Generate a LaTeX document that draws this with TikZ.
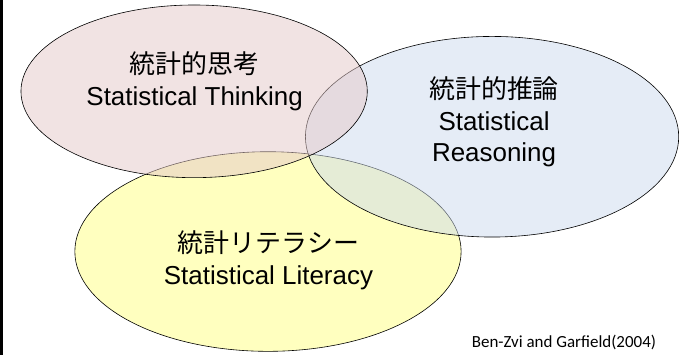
\documentclass[tikz,border=0pt]{standalone}
\usepackage{fontspec}
\setmainfont{Liberation Sans}
\newfontfamily\jpfont{Noto Sans CJK JP}
\newfontfamily\reffont{Carlito}
\usetikzlibrary{shapes.geometric}
\definecolor{thinkpink}{RGB}{229,201,201}
\definecolor{reasonblue}{RGB}{205,219,238}
\definecolor{literyellow}{RGB}{255,255,128}

\begin{document}
\begin{tikzpicture}[x=1pt, y=-1pt,
    blob/.style={ellipse, draw=black, line width=0.6pt, fill opacity=0.5, inner sep=0pt},
    word/.style={align=center, font=\fontsize{26}{32}\selectfont}]
      \fill[white] (0, 0) rectangle (679, 356);
      % the three circles, lowest first
      \node[blob, fill=literyellow, minimum width=387pt, minimum height=200pt] (lit) at (268.5, 252) {};
      \node[blob, fill=reasonblue, minimum width=374pt, minimum height=201pt] (reason) at (493, 137) {};
      \node[blob, fill=thinkpink, minimum width=347pt, minimum height=173pt] (think) at (194.5, 91.5) {};
      \node[word] (thinktxt) at (195, 81) {{\jpfont 統計的思考}\\Statistical Thinking};
      \node[word] (reasontxt) at (495, 122) {{\jpfont 統計的推論}\\Statistical\\Reasoning};
      \node[word] (littxt) at (269, 261) {{\jpfont 統計リテラシー}\\Statistical Literacy};
      \node[font=\reffont\fontsize{17}{20}\selectfont] (source) at (565, 343) {Ben-Zvi and Garfield(2004)};
      \fill[black] (0, 0) rectangle (3.5, 356);
    \end{tikzpicture}
\end{document}
